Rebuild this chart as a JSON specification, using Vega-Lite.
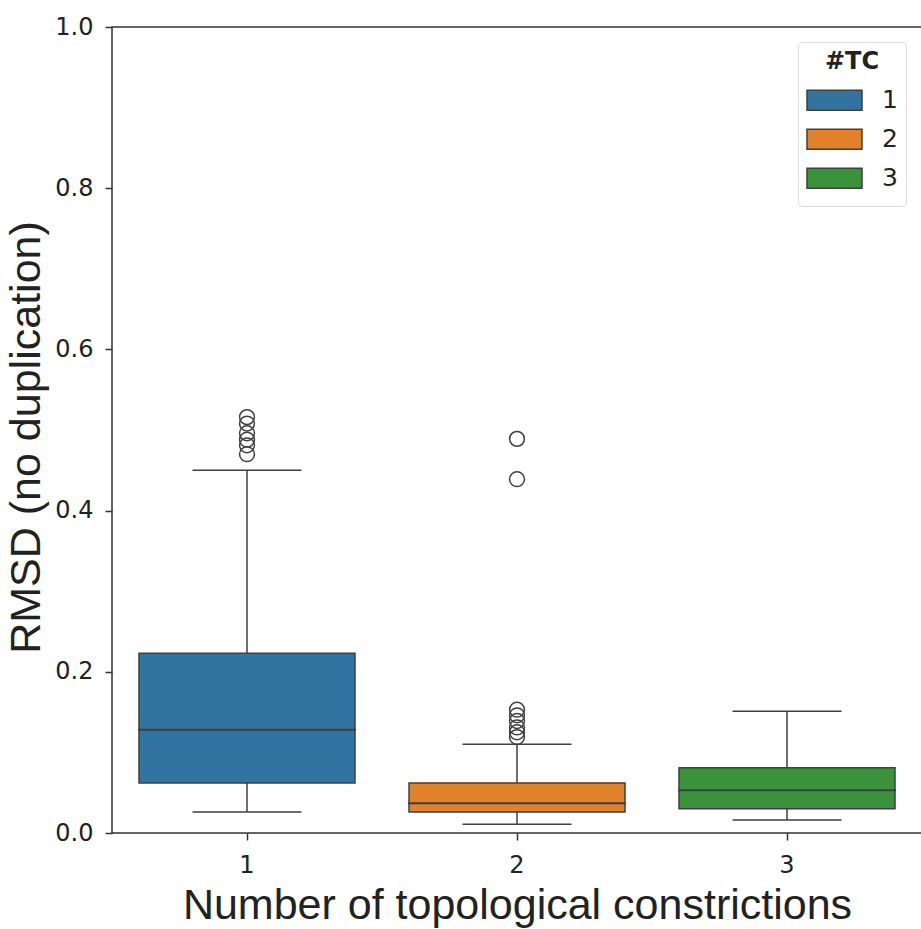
{
  "$schema": "https://vega.github.io/schema/vega-lite/v6.json",
  "width": 810,
  "height": 806,
  "autosize": "none",
  "padding": {"left": 112, "top": 27, "right": 0, "bottom": 96},
  "datasets": {
    "stats": [
      {"tc": "1", "lower": 0.026, "q1": 0.062, "median": 0.128, "q3": 0.223, "upper": 0.450},
      {"tc": "2", "lower": 0.011, "q1": 0.026, "median": 0.037, "q3": 0.062, "upper": 0.110},
      {"tc": "3", "lower": 0.016, "q1": 0.030, "median": 0.053, "q3": 0.081, "upper": 0.151}
    ],
    "outliers": [
      {"tc": "1", "rmsd": 0.516},
      {"tc": "1", "rmsd": 0.508},
      {"tc": "1", "rmsd": 0.496},
      {"tc": "1", "rmsd": 0.488},
      {"tc": "1", "rmsd": 0.481},
      {"tc": "1", "rmsd": 0.470},
      {"tc": "2", "rmsd": 0.489},
      {"tc": "2", "rmsd": 0.439},
      {"tc": "2", "rmsd": 0.153},
      {"tc": "2", "rmsd": 0.146},
      {"tc": "2", "rmsd": 0.139},
      {"tc": "2", "rmsd": 0.131},
      {"tc": "2", "rmsd": 0.125},
      {"tc": "2", "rmsd": 0.119}
    ]
  },
  "encoding": {
    "x": {
      "field": "tc",
      "type": "nominal",
      "scale": {"domain": ["1", "2", "3"], "paddingInner": 0, "paddingOuter": 0},
      "axis": {"title": "Number of topological constrictions", "labelAngle": 0, "titlePadding": 7, "labelPadding": 13}
    }
  },
  "layer": [
    {
      "data": {"name": "stats"},
      "mark": {"type": "rule", "color": "#3f3f3f", "strokeWidth": 1.5},
      "encoding": {
        "y": {"field": "lower", "type": "quantitative", "scale": {"domain": [0, 1], "nice": false}, "axis": {"title": "RMSD (no duplication)", "values": [0, 0.2, 0.4, 0.6, 0.8, 1.0], "format": ".1f", "titlePadding": 6, "labelPadding": 12, "titleY": 410}},
        "y2": {"field": "upper"}
      }
    },
    {
      "data": {"name": "stats"},
      "mark": {"type": "bar", "width": {"band": 0.8}, "stroke": "#3f3f3f", "strokeWidth": 1.5, "opacity": 1},
      "encoding": {
        "y": {"field": "q1", "type": "quantitative"},
        "y2": {"field": "q3"},
        "color": {
          "field": "tc",
          "type": "nominal",
          "scale": {"domain": ["1", "2", "3"], "range": ["#3274a1", "#e1812c", "#3a923a"]},
          "legend": {
            "title": "#TC",
            "orient": "none",
            "legendX": 686,
            "legendY": 15,
            "symbolType": "M-1,-0.36L1,-0.36L1,0.36L-1,0.36Z",
            "symbolSize": 3025,
            "symbolStrokeColor": "#3f3f3f",
            "symbolStrokeWidth": 1.5,
            "symbolOpacity": 1,
            "clipHeight": 38.5,
            "labelFontSize": 25,
            "labelFont": "DejaVu Sans",
            "labelColor": "#222",
            "titleFontSize": 24,
            "titleFont": "DejaVu Sans",
            "titleFontWeight": 600,
            "titleColor": "#222",
            "titleAnchor": "middle",
            "titlePadding": 7,
            "rowPadding": 0,
            "labelOffset": 19,
            "padding": 8,
            "strokeColor": "#dddddd",
            "fillColor": "white",
            "cornerRadius": 4
          }
        }
      }
    },
    {
      "data": {"name": "stats"},
      "mark": {"type": "tick", "color": "#3f3f3f", "size": 218, "thickness": 2, "opacity": 1},
      "encoding": {"y": {"field": "median", "type": "quantitative"}}
    },
    {
      "data": {"name": "stats"},
      "mark": {"type": "tick", "color": "#3f3f3f", "size": 109, "thickness": 1.5, "opacity": 1},
      "encoding": {"y": {"field": "lower", "type": "quantitative"}}
    },
    {
      "data": {"name": "stats"},
      "mark": {"type": "tick", "color": "#3f3f3f", "size": 109, "thickness": 1.5, "opacity": 1},
      "encoding": {"y": {"field": "upper", "type": "quantitative"}}
    },
    {
      "data": {"name": "outliers"},
      "mark": {"type": "point", "shape": "circle", "filled": false, "size": 220, "stroke": "#3f3f3f", "strokeWidth": 1.5, "opacity": 1},
      "encoding": {"y": {"field": "rmsd", "type": "quantitative"}}
    }
  ],
  "config": {
    "view": {"stroke": "#333333", "strokeWidth": 1.5},
    "axis": {
      "domain": false,
      "grid": false,
      "tickColor": "#333333",
      "tickSize": 7,
      "tickWidth": 1.5,
      "labelFont": "DejaVu Sans",
      "labelFontSize": 24,
      "labelColor": "#222222",
      "titleFont": "Liberation Sans",
      "titleFontSize": 43,
      "titleFontWeight": "normal",
      "titleColor": "#222222"
    }
  }
}
